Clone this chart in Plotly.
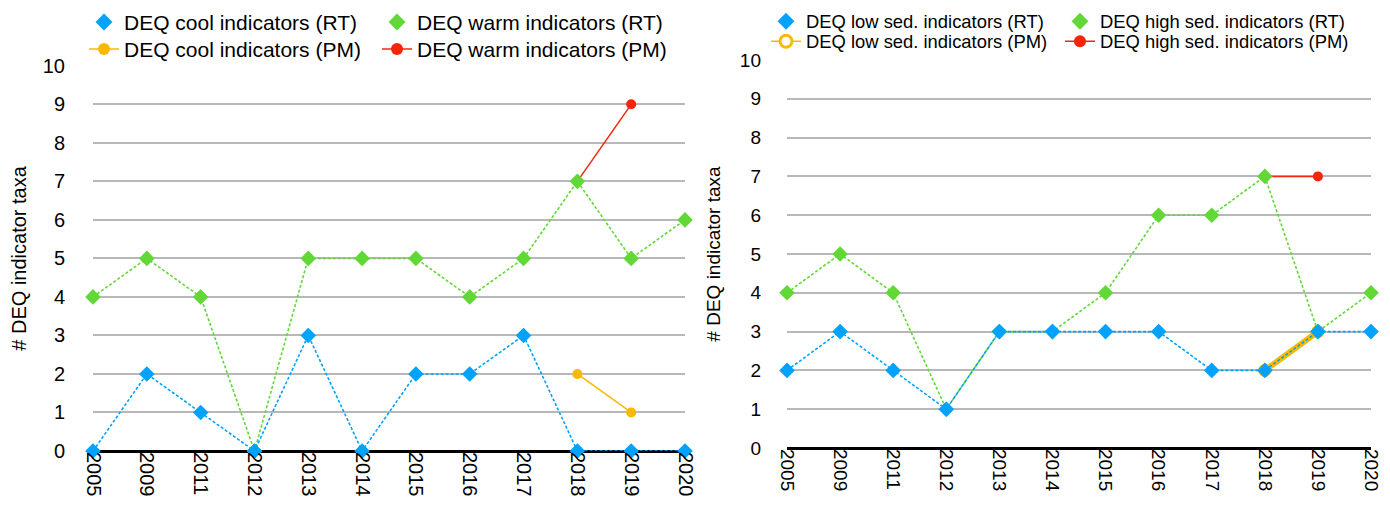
import plotly.graph_objects as go

# Sampling years (category axis)
years = ["2005", "2009", "2011", "2012", "2013", "2014", "2015",
         "2016", "2017", "2018", "2019", "2020"]
pm_years = ["2018", "2019"]

# Temperature indicator counts
cool_rt = [0, 2, 1, 0, 3, 0, 2, 2, 3, 0, 0, 0]
warm_rt = [4, 5, 4, 0, 5, 5, 5, 4, 5, 7, 5, 6]
cool_pm = [2, 1]
warm_pm = [7, 9]

# Sediment indicator counts
low_rt = [2, 3, 2, 1, 3, 3, 3, 3, 2, 2, 3, 3]
high_rt = [4, 5, 4, 1, 3, 3, 4, 6, 6, 7, 3, 4]
low_pm = [2, 3]
high_pm = [7, 7]

y_ticks = list(range(0, 11))

BLUE = "#00a2ff"
GREEN = "#61d836"
YELLOW = "#f8ba00"
RED = "#f3260c"
FONT = "Liberation Sans, Arial, Helvetica, sans-serif"

W, H = 1390, 510
ML, MR, MT, MB = 93, 19, 59.7, 59.3
PW = W - ML - MR
PH = H - MT - MB


def px_x(px):
    return (px - ML) / PW


def px_y(py):
    return (H - MB - py) / PH


fig = go.Figure()


def add_pm(x, y, color, xa, ya, width=1.5, open_marker=False):
    fig.add_trace(go.Scatter(
        x=x, y=y, xaxis=xa, yaxis=ya, mode="lines+markers",
        line=dict(color=color, width=width),
        marker=dict(symbol="circle", size=10,
                    color="white" if open_marker else color,
                    line=dict(color=color, width=3 if open_marker else 0)),
        cliponaxis=False, showlegend=False, hoverinfo="skip"))


def add_rt(y, color, xa, ya):
    fig.add_trace(go.Scatter(
        x=years, y=y, xaxis=xa, yaxis=ya, mode="lines+markers",
        line=dict(color=color, width=1.6, dash="3px,2px"),
        marker=dict(symbol="diamond", size=12, color=color),
        cliponaxis=False, showlegend=False, hoverinfo="skip"))


# Left panel: temperature indicators
add_pm(pm_years, cool_pm, YELLOW, "x", "y")
add_pm(pm_years, warm_pm, RED, "x", "y")
add_rt(warm_rt, GREEN, "x", "y")
add_rt(cool_rt, BLUE, "x", "y")

# Right panel: sediment indicators
add_pm(pm_years, low_pm, YELLOW, "x2", "y2", width=6, open_marker=True)
add_pm(pm_years, high_pm, RED, "x2", "y2")
add_rt(high_rt, GREEN, "x2", "y2")
add_rt(low_rt, BLUE, "x2", "y2")

# Legend entries, one small legend per entry to lay out a 2x2 grid
legend_items = [
    # name, color, kind, symbol centre px (x, y), font size
    ("DEQ cool indicators (RT)", BLUE, "rt", (104, 22), 21),
    ("DEQ warm indicators (RT)", GREEN, "rt", (397, 22), 21),
    ("DEQ cool indicators (PM)", YELLOW, "pm", (104, 49), 21),
    ("DEQ warm indicators (PM)", RED, "pm", (397, 49), 21),
    ("DEQ low sed. indicators (RT)", BLUE, "rt", (786, 21), 18.4),
    ("DEQ high sed. indicators (RT)", GREEN, "rt", (1080, 21), 18.4),
    ("DEQ low sed. indicators (PM)", YELLOW, "pmo", (786, 41), 18.4),
    ("DEQ high sed. indicators (PM)", RED, "pm", (1080, 41), 18.4),
]

layout_legends = {}
for i, (name, color, kind, (cx, cy), fs) in enumerate(legend_items):
    key = "legend" if i == 0 else f"legend{i + 1}"
    if kind == "rt":
        tr = go.Scatter(x=[None], y=[None], mode="markers", name=name,
                        marker=dict(symbol="diamond", size=13, color=color))
    else:
        tr = go.Scatter(x=[None], y=[None], mode="lines+markers", name=name,
                        line=dict(color=color, width=1.5),
                        marker=dict(symbol="circle", size=12,
                                    color="white" if kind == "pmo" else color,
                                    line=dict(color=color,
                                              width=3 if kind == "pmo" else 0)))
    tr.update(legend=key, showlegend=True, hoverinfo="skip")
    fig.add_trace(tr)
    layout_legends[key] = dict(
        x=px_x(cx - 20), y=px_y(cy), xanchor="left", yanchor="middle",
        bgcolor="rgba(0,0,0,0)", borderwidth=0,
        font=dict(family=FONT, size=fs, color="#000000"),
        itemwidth=30, tracegroupgap=0)

axis_common = dict(
    type="category", range=[0, len(years) - 1],
    categoryorder="array", categoryarray=years,
    showgrid=False, zeroline=False,
    showline=False, ticks="", tickangle=90,
    tickfont=dict(family=FONT, size=20, color="#000000"),
)
yaxis_common = dict(
    range=[0, 10], tickvals=y_ticks, ticktext=[str(v) for v in y_ticks],
    showgrid=True, gridcolor="#b8b8b8", gridwidth=2.2,
    zeroline=True, zerolinecolor="#000000", zerolinewidth=3,
    showline=False, ticks="", ticklabelstandoff=27,
    tickfont=dict(family=FONT, size=20, color="#000000"),
)

fig.update_layout(
    width=W, height=H,
    margin=dict(l=ML, r=MR, t=MT, b=MB, autoexpand=False),
    paper_bgcolor="white", plot_bgcolor="white",
    font=dict(family=FONT, color="#000000"),
    xaxis=dict(axis_common, domain=[0, px_x(685)], anchor="y"),
    xaxis2=dict(axis_common, domain=[px_x(787), 1], anchor="y2",
                tickfont=dict(family=FONT, size=19, color="#000000")),
    yaxis=dict(yaxis_common, domain=[0, px_y(65.5)], anchor="x",
               title=dict(text="# DEQ indicator taxa", standoff=10,
                          font=dict(family=FONT, size=20, color="#000000"))),
    yaxis2=dict(yaxis_common, domain=[px_y(447.7), 1], anchor="x2",
                tickfont=dict(family=FONT, size=19, color="#000000"),
                ticklabelstandoff=25,
                title=dict(text="# DEQ indicator taxa", standoff=14,
                           font=dict(family=FONT, size=19, color="#000000"))),
    **layout_legends,
)

fig.write_html("out.html")
